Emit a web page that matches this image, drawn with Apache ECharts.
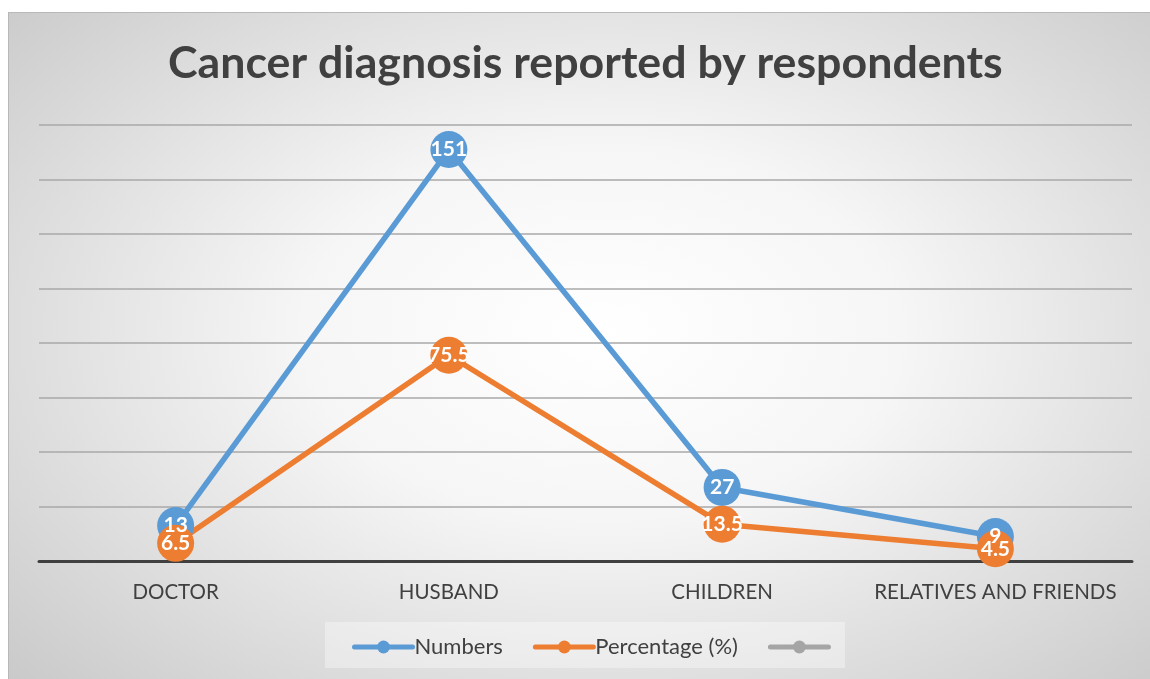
<!DOCTYPE html>
<html>
<head>
<meta charset="utf-8">
<script src="https://cdn.jsdelivr.net/npm/echarts@6/dist/echarts.min.js"></script>
<style>
  html, body { margin: 0; padding: 0; background: #ffffff; width: 1150px; height: 679px; overflow: hidden; }
  #frame {
    position: absolute; left: 8px; top: 12px; width: 1142px; height: 667px;
    background: radial-gradient(ellipse 75% 80% at 52% 48%, #ffffff 0%, #f6f6f6 35%, #dcdcdc 70%, #c6c6c6 100%);
    border-top: 1px solid #b8b8b8; border-left: 1px solid #b8b8b8; box-sizing: border-box;
  }
  #legendBox {
    position: absolute; left: 325px; top: 622px; width: 520px; height: 46px;
    background: rgba(255,255,255,0.35);
  }
  #chart { position: absolute; left: 8px; top: 12px; width: 1142px; height: 667px; }
</style>
</head>
<body>
<div id="frame"></div>
<div id="legendBox"></div>
<div id="chart"></div>
<script>
const titleText = 'Cancer diagnosis reported by respondents';
const categories = ['DOCTOR', 'HUSBAND', 'CHILDREN', 'RELATIVES AND FRIENDS'];
const numbers = [13, 151, 27, 9];
const percentage = [6.5, 75.5, 13.5, 4.5];
const thirdSeries = [];
const seriesNames = ['Numbers', 'Percentage (%)', ' '];
const seriesColors = ['#5b9bd5', '#ed7d31', '#a5a5a5'];
const yMin = 0, yMax = 160, yInterval = 20;

const FONT = 'Lato, "Open Sans", sans-serif';
const chart = echarts.init(document.getElementById('chart'), null, { renderer: 'canvas' });

function lineSeries(name, data, color) {
  return {
    name: name,
    type: 'line',
    data: data,
    symbol: 'circle',
    symbolSize: 37,
    showSymbol: true,
    lineStyle: { color: color, width: 5.5 },
    itemStyle: { color: color },
    label: {
      show: true,
      position: 'inside',
      color: '#ffffff',
      fontFamily: FONT,
      fontWeight: 'bold',
      fontSize: 21
    },
    emphasis: { disabled: true },
    animation: false
  };
}

chart.setOption({
  backgroundColor: 'transparent',
  animation: false,
  title: {
    text: titleText,
    left: 155,
    top: 24,
    textStyle: { fontFamily: FONT, fontWeight: 'bold', fontSize: 44.7, color: '#404040' }
  },
  grid: { left: 31, right: 18, top: 113, bottom: 118, containLabel: false },
  xAxis: {
    type: 'category',
    data: categories,
    boundaryGap: true,
    axisLine: { show: true, lineStyle: { color: '#404040', width: 3 } },
    axisTick: { show: false },
    axisLabel: { color: '#404040', fontFamily: FONT, fontSize: 20.5, margin: 21, interval: 0 },
    splitLine: { show: false }
  },
  yAxis: {
    type: 'value',
    min: yMin, max: yMax, interval: yInterval,
    axisLine: { show: false },
    axisTick: { show: false },
    axisLabel: { show: false },
    splitLine: { show: true, lineStyle: { color: '#a8a8a8', width: 1.5 } }
  },
  legend: {
    bottom: 16,
    left: 339,
    itemWidth: 58,
    itemHeight: 16,
    itemGap: 30,
    textStyle: { color: '#404040', fontFamily: FONT, fontSize: 22, padding: [0, 0, 0, -3] },
    data: seriesNames.map((n, i) => ({
      name: n,
      lineStyle: { width: 5, color: seriesColors[i], cap: 'round' },
      itemStyle: { color: seriesColors[i] }
    }))
  },
  series: [
    lineSeries(seriesNames[0], numbers, seriesColors[0]),
    lineSeries(seriesNames[1], percentage, seriesColors[1]),
    lineSeries(seriesNames[2], thirdSeries, seriesColors[2])
  ]
});
</script>
</body>
</html>
